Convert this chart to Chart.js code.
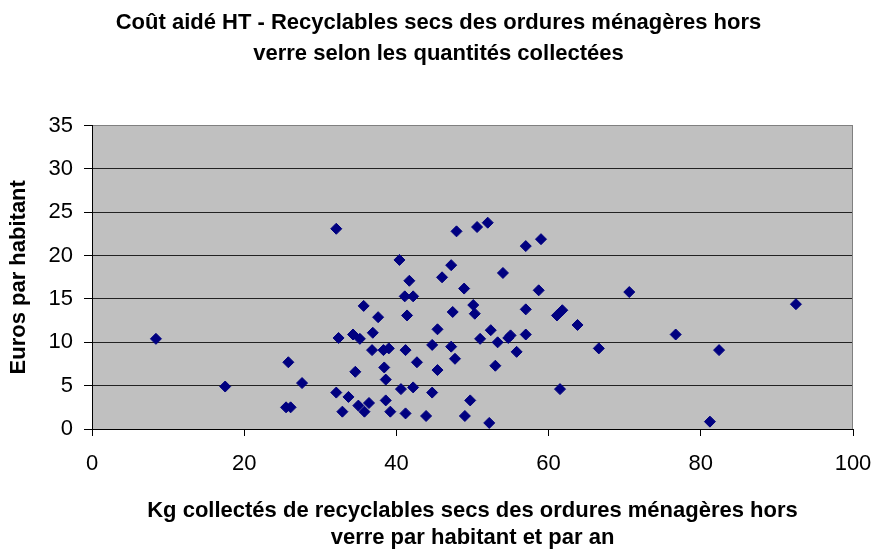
<!DOCTYPE html>
<html lang="fr">
<head>
<meta charset="utf-8">
<title>Coût aidé HT - Recyclables secs</title>
<script src="https://cdn.jsdelivr.net/npm/chart.js@4.4.1/dist/chart.umd.min.js"></script>
<style>
    body { margin: 0; background: #ffffff; }
    #wrap { width: 877px; height: 549px; }
</style>
</head>
<body>
<div id="wrap"><canvas id="costChart" width="877" height="549"></canvas></div>
<script>
// Kg collectés par habitant et par an
const kgCollected = [
    8.4, 17.5, 25.8, 27.6, 25.5, 26.1, 32.1, 32.4, 32.1, 33.7, 32.9,
    47.9, 50.6, 52.0, 40.4, 47.2, 41.7, 46.0, 48.9, 41.1, 42.2,
    35.7, 50.1, 37.6, 41.4, 47.4, 50.3, 45.4, 36.9, 34.3, 35.2,
    36.8, 38.3, 39.0, 41.2, 44.7, 47.2, 47.7, 42.7, 38.4, 34.6,
    45.4, 38.6, 40.6, 42.2, 44.7, 38.6, 49.7, 35.0, 36.4, 35.8,
    39.2, 41.2, 43.9, 49.0, 51.0,
    57.0, 59.0, 54.0, 58.7, 57.0, 61.1, 61.8, 63.8, 52.4, 53.3,
    54.7, 55.0, 57.0, 55.8, 53.0, 66.6, 61.5, 52.2,
    70.6, 92.5, 76.7, 82.4, 81.2
];

// Euros par habitant (coût aidé HT)
const eurosPerHab = [
    10.4, 4.9, 7.7, 5.3, 2.5, 2.5, 23.1, 10.5, 4.2, 3.7, 2.0,
    22.8, 23.3, 23.8, 19.5, 18.9, 17.1, 17.5, 16.2, 15.3, 15.3,
    14.2, 14.3, 12.9, 13.1, 13.5, 13.3, 11.5, 11.1, 10.9, 10.4,
    9.1, 9.1, 9.3, 9.1, 9.7, 9.5, 8.1, 7.7, 7.1, 6.6,
    6.8, 5.7, 4.6, 4.8, 4.2, 3.3, 3.3, 2.7, 3.0, 2.0,
    2.0, 1.8, 1.5, 1.5, 10.4,
    21.1, 21.9, 18.0, 16.0, 13.8, 13.1, 13.7, 12.0, 11.4, 10.0,
    10.5, 10.8, 10.9, 8.9, 7.3, 9.3, 4.6, 0.7,
    15.8, 14.4, 10.9, 9.1, 0.85
];

const xTickValues = [0, 20, 40, 60, 80, 100];
const yTickValues = [0, 5, 10, 15, 20, 25, 30, 35];

const chartTitle = [
    'Coût aidé HT - Recyclables secs des ordures ménagères hors',
    'verre selon les quantités collectées'
];
const xAxisTitle = [
    'Kg collectés de recyclables secs des ordures ménagères hors',
    'verre par habitant et par an'
];
const yAxisTitle = 'Euros par habitant';

const FONT = "'Liberation Sans', Arial, sans-serif";

// grey plot area + grey frame on the right
const plotBackground = {
    id: 'plotBackground',
    beforeDraw(chart) {
        const { ctx, chartArea: a } = chart;
        ctx.save();
        ctx.fillStyle = '#c0c0c0';
        ctx.fillRect(a.left, a.top, a.right - a.left, a.bottom - a.top);
        ctx.restore();
    },
    beforeDatasetsDraw(chart) {
        const { ctx, chartArea: a } = chart;
        ctx.save();
        ctx.strokeStyle = '#808080';
        ctx.lineWidth = 1;
        ctx.beginPath();
        ctx.moveTo(a.right - 0.5, a.top);
        ctx.lineTo(a.right - 0.5, a.bottom);
        ctx.stroke();
        ctx.restore();
    }
};

const points = kgCollected.map((x, i) => ({ x: x, y: eurosPerHab[i] }));

new Chart(document.getElementById('costChart'), {
    type: 'scatter',
    data: {
        datasets: [{
            data: points,
            pointStyle: 'rectRot',
            pointRadius: 5.5,
            pointBackgroundColor: '#000080',
            pointBorderColor: '#000080',
            pointBorderWidth: 1
        }]
    },
    options: {
        responsive: false,
        animation: false,
        layout: { padding: 0 },
        plugins: {
            legend: { display: false },
            tooltip: { enabled: false },
            title: {
                display: true,
                text: chartTitle,
                color: '#000000',
                font: { family: FONT, size: 22, weight: 'bold', lineHeight: 1.4 },
                padding: { top: 7.5, bottom: 56.5 }
            }
        },
        scales: {
            x: {
                type: 'linear',
                min: 0,
                max: 100,
                afterBuildTicks: (s) => { s.ticks = xTickValues.map(v => ({ value: v })); },
                afterFit: (s) => {
                    s.height = 120;
                    s.paddingLeft = 0;
                    s.paddingRight = 0;
                },
                grid: {
                    drawOnChartArea: false,
                    drawTicks: true,
                    tickLength: 7,
                    tickColor: '#000000'
                },
                border: { display: true, color: '#000000', width: 1 },
                ticks: {
                    color: '#000000',
                    padding: 15,
                    font: { family: FONT, size: 22 }
                },
                title: {
                    display: true,
                    text: xAxisTitle,
                    color: '#000000',
                    font: { family: FONT, size: 22, weight: 'bold', lineHeight: 1.25 },
                    padding: { top: 0, bottom: -3 }
                }
            },
            y: {
                type: 'linear',
                min: 0,
                max: 35,
                afterBuildTicks: (s) => { s.ticks = yTickValues.map(v => ({ value: v })); },
                afterFit: (s) => { s.width = 92; },
                grid: {
                    color: (c) => (c.tick && c.tick.value === 35 ? '#808080' : '#222222'),
                    tickColor: '#000000',
                    tickLength: 8,
                    lineWidth: 1
                },
                border: { display: true, color: '#000000', width: 1 },
                ticks: {
                    color: '#000000',
                    padding: 11,
                    font: { family: FONT, size: 22 }
                },
                title: {
                    display: true,
                    text: yAxisTitle,
                    color: '#000000',
                    font: { family: FONT, size: 22, weight: 'bold', lineHeight: 1.2 },
                    padding: { top: 6, bottom: 0 }
                }
            },
            // empty right axis only reserves the white margin
            yRight: {
                type: 'linear',
                position: 'right',
                display: true,
                afterFit: (s) => { s.width = 24; },
                grid: { display: false },
                border: { display: false },
                ticks: { display: false }
            }
        }
    },
    plugins: [plotBackground]
});
</script>
</body>
</html>
